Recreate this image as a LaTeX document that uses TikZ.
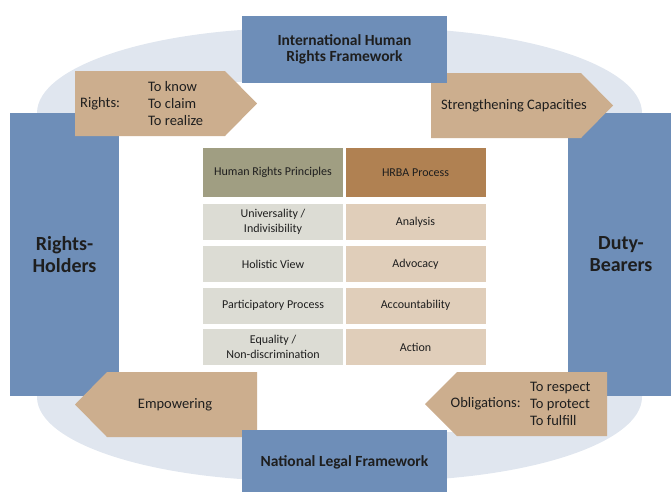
\documentclass[tikz,border=0pt]{standalone}
\usepackage{fontspec}
\setmainfont{Carlito}

\definecolor{frameblue}{HTML}{6E8EB8}
\definecolor{arrowtan}{HTML}{CCAE8E}
\definecolor{halo}{HTML}{E0E6EF}
\definecolor{prinhead}{HTML}{A09E82}
\definecolor{prochead}{HTML}{B08152}
\definecolor{princell}{HTML}{DCDCD4}
\definecolor{proccell}{HTML}{E0CEBA}
\definecolor{ink}{HTML}{1E1E1E}

\begin{document}
\begin{tikzpicture}[x=1pt,y=-1pt,
  frame/.style={fill=frameblue, text=ink, align=center, inner sep=0pt},
  banner/.style={fill=arrowtan},
  btext/.style={text=ink, inner sep=0pt, font=\fontsize{14.5}{17}\selectfont},
  cell/.style={minimum width=140pt, inner sep=0pt, align=center, text=ink,
    font=\fontsize{12}{15}\selectfont}]
\useasboundingbox (0,0) rectangle (671,491);

% pale halo behind the frame, white inside
\fill[halo] (37,113) .. controls (37,66) and (153.4,28) .. (297,28) -- (382,28)
  .. controls (525.6,28) and (642,66) .. (642,113) -- (642,397)
  .. controls (642,443.4) and (525.6,481) .. (382,481) -- (297,481)
  .. controls (153.4,481) and (37,443.4) .. (37,397) -- cycle;
\fill[white] (119,82) rectangle (568,432);

% the two sides
\node[frame, minimum width=109pt, minimum height=283pt,
  font=\bfseries\fontsize{20}{22}\selectfont] (holders) at (64.5,254.5) {Rights-\\Holders};
\node[frame, minimum width=106pt, minimum height=283pt,
  font=\bfseries\fontsize{20}{22}\selectfont] (bearers) at (621,254.5) {Duty-\\Bearers};

% banners
\fill[banner] (75,71) -- (225,71) -- (257,103.5) -- (225,136) -- (75,136) -- cycle;
\fill[banner] (431,73) -- (581,73) -- (613,105.5) -- (581,138) -- (431,138) -- cycle;
\fill[banner] (257,372) -- (107,372) -- (75,404.5) -- (107,437) -- (257,437) -- cycle;
\fill[banner] (607,372) -- (457,372) -- (425,404) -- (457,436) -- (607,436) -- cycle;

\node[btext, anchor=west] (rights) at (80,103.5) {Rights:};
\node[btext, anchor=west, align=left] (rightlist) at (148,103.5) {To know\\To claim\\To realize};
\node[btext] (capacity) at (514,105.5) {Strengthening Capacities};
\node[btext] (empower) at (175,404.5) {Empowering};
\node[btext, anchor=east] (oblig) at (521,404) {Obligations:};
\node[btext, anchor=west, align=left] (obliglist) at (530,404) {To respect\\To protect\\To fulfill};

% frameworks on top and bottom
\node[frame, minimum width=205pt, minimum height=67pt,
  font=\bfseries\fontsize{15.5}{16.7}\selectfont] (intl) at (344.5,49.5) {International Human\\Rights Framework};
\node[frame, minimum width=205pt, minimum height=64pt,
  font=\bfseries\fontsize{15.5}{16.7}\selectfont] (natl) at (344.5,462) {National Legal Framework};

% principles / process table
\node[cell, fill=prinhead, minimum height=49pt] (princ) at (273,172.5) {Human Rights Principles};
\node[cell, fill=prochead, minimum height=49pt] (hrba) at (415.5,172.5) {HRBA Process};
\foreach \txt [count=\i] in {{Universality /\\Indivisibility}, {Holistic View},
    {Participatory Process}, {Equality /\\Non-discrimination}}
  \node[cell, fill=princell, minimum height=36pt] (princ\i) at (273,{180.5+41.7*\i}) {\txt};
\foreach \txt [count=\i] in {Analysis, Advocacy, Accountability, Action}
  \node[cell, fill=proccell, minimum height=36pt] (hrba\i) at (415.5,{180.5+41.7*\i}) {\txt};
\end{tikzpicture}
\end{document}
